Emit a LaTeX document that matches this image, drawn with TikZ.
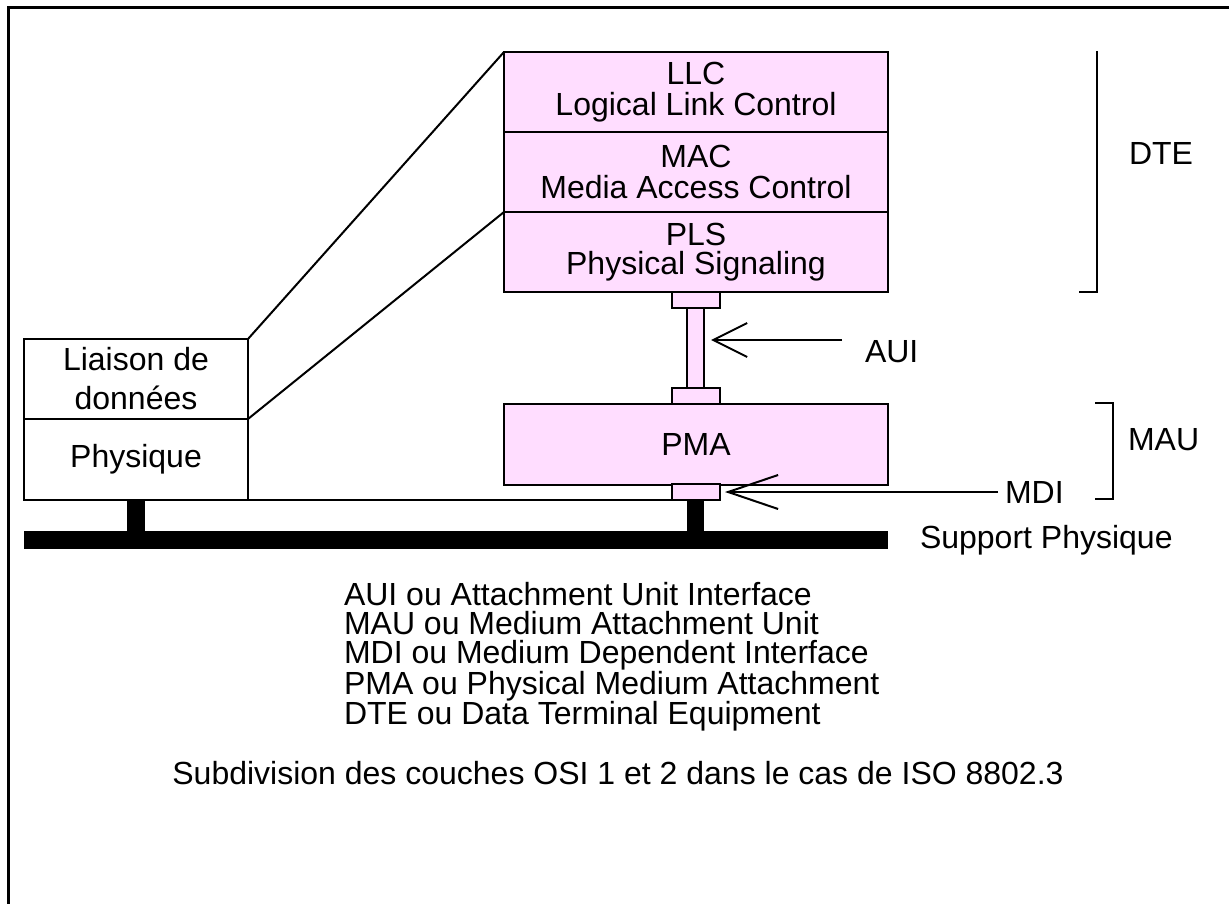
\documentclass[tikz,border=0pt]{standalone}
\usepackage{fontspec}
\setmainfont{Liberation Sans}
\usetikzlibrary{arrows.meta}
\definecolor{layerpink}{RGB}{255,221,255}
\begin{document}
\begin{tikzpicture}[x=1pt,y=-1pt,
  txt/.style={font=\fontsize{32}{31}\selectfont, inner sep=0pt, outer sep=0pt},
  layer/.style={txt, draw, line width=2pt, fill=layerpink, align=center, minimum width=384pt, minimum height=80pt},
  osibox/.style={txt, draw, line width=2pt, fill=white, align=center, minimum width=224pt, minimum height=80pt},
  plug/.style={draw, line width=2pt, fill=layerpink, inner sep=0pt, outer sep=0pt, minimum width=48pt, minimum height=16pt},
  stembox/.style={draw, line width=2pt, fill=layerpink, inner sep=0pt, outer sep=0pt, minimum width=17pt, minimum height=80pt},
  solid black/.style={fill=black, inner sep=0pt, outer sep=0pt},
  conn/.style={line width=2pt},
  pointer/.style={line width=2pt, -{Straight Barb[length=#1, width=34pt, line width=2pt]}},
  bracket/.style={line width=2pt}
]
\useasboundingbox (0,0) rectangle (1229,904);
% outer frame
\draw[line width=3pt] (1229,8) -- (8,8) -- (8,904);

% DTE stack
\node[layer] (llc) at (696,92) {LLC\\Logical Link Control};
\node[layer] (mac) at (696,172) {MAC\\Media Access Control};
\node[layer, font=\fontsize{32}{28.5}\selectfont] (pls) at (696,252) {PLS\\Physical Signaling};

% AUI cable
\node[plug] (auitop) at (696,300) {};
\node[stembox] (stem) at (695.5,348) {};
\node[plug] (auibot) at (696,396) {};

% PMA
\node[layer, minimum height=81pt] (pma) at (696,444.5) {PMA};
\node[plug] (mdi) at (696,492) {};

% OSI boxes
\node[osibox, font=\fontsize{32}{39}\selectfont] (liaison) at (136,379) {Liaison de\\donn\'ees};
\node[osibox, minimum height=81pt] (phys) at (136,459.5) {Physique};

% bus and stems
\node[solid black, minimum width=864pt, minimum height=18pt] (bus) at (456,540) {};
\node[solid black, minimum width=17pt, minimum height=31pt] (mdistem) at (695.5,515.5) {};
\node[solid black, minimum width=18pt, minimum height=31pt] (leftstem) at (136,515.5) {};

% mapping lines
\draw[conn] (liaison.north east) -- (llc.north west);
\draw[conn] (liaison.south east) -- (pls.north west);
\draw[conn] (phys.south east) -- (mdi.south west);

% brackets
\coordinate (dtetop) at (1097,51);
\coordinate (dtebot) at (1097,292);
\coordinate (dtetick) at (1079,292);
\draw[bracket] (dtetop) -- (dtebot) -- (dtetick);
\coordinate (mautop) at (1113,403);
\coordinate (mautopl) at (1095,403);
\coordinate (maubot) at (1113,499);
\coordinate (maubotl) at (1095,499);
\draw[bracket] (mautopl) -- (mautop) -- (maubot) -- (maubotl);

% labels
\node[txt, anchor=west] (dte) at (1129,153) {DTE};
\node[txt, anchor=west] (mau) at (1128,440) {MAU};
\node[txt, anchor=west] (aui) at (865,352) {AUI};
\node[txt, anchor=west] (mdil) at (1005,492) {MDI};
\node[txt, anchor=west] (support) at (920,540) {Support Physique};

% pointers
\coordinate (auitail) at (842,340);
\coordinate (mditail) at (998,492);
\draw[pointer=34pt, shorten >=7pt] (auitail) -- (stem.east |- auitail);
\draw[pointer=50pt, shorten >=5pt] (mditail) -- (mdi.east);

% legend
\node[txt, anchor=north west, align=left, font=\fontsize{32}{29}\selectfont] (legend) at (344,582) {AUI ou Attachment Unit Interface\\
MAU ou Medium Attachment Unit\\
MDI ou Medium Dependent Interface\\
PMA ou Physical Medium Attachment\\
DTE ou Data Terminal Equipment};

\node[txt] (caption) at (618,773) {Subdivision des couches OSI 1 et 2 dans le cas de ISO 8802.3};
\end{tikzpicture}
\end{document}
